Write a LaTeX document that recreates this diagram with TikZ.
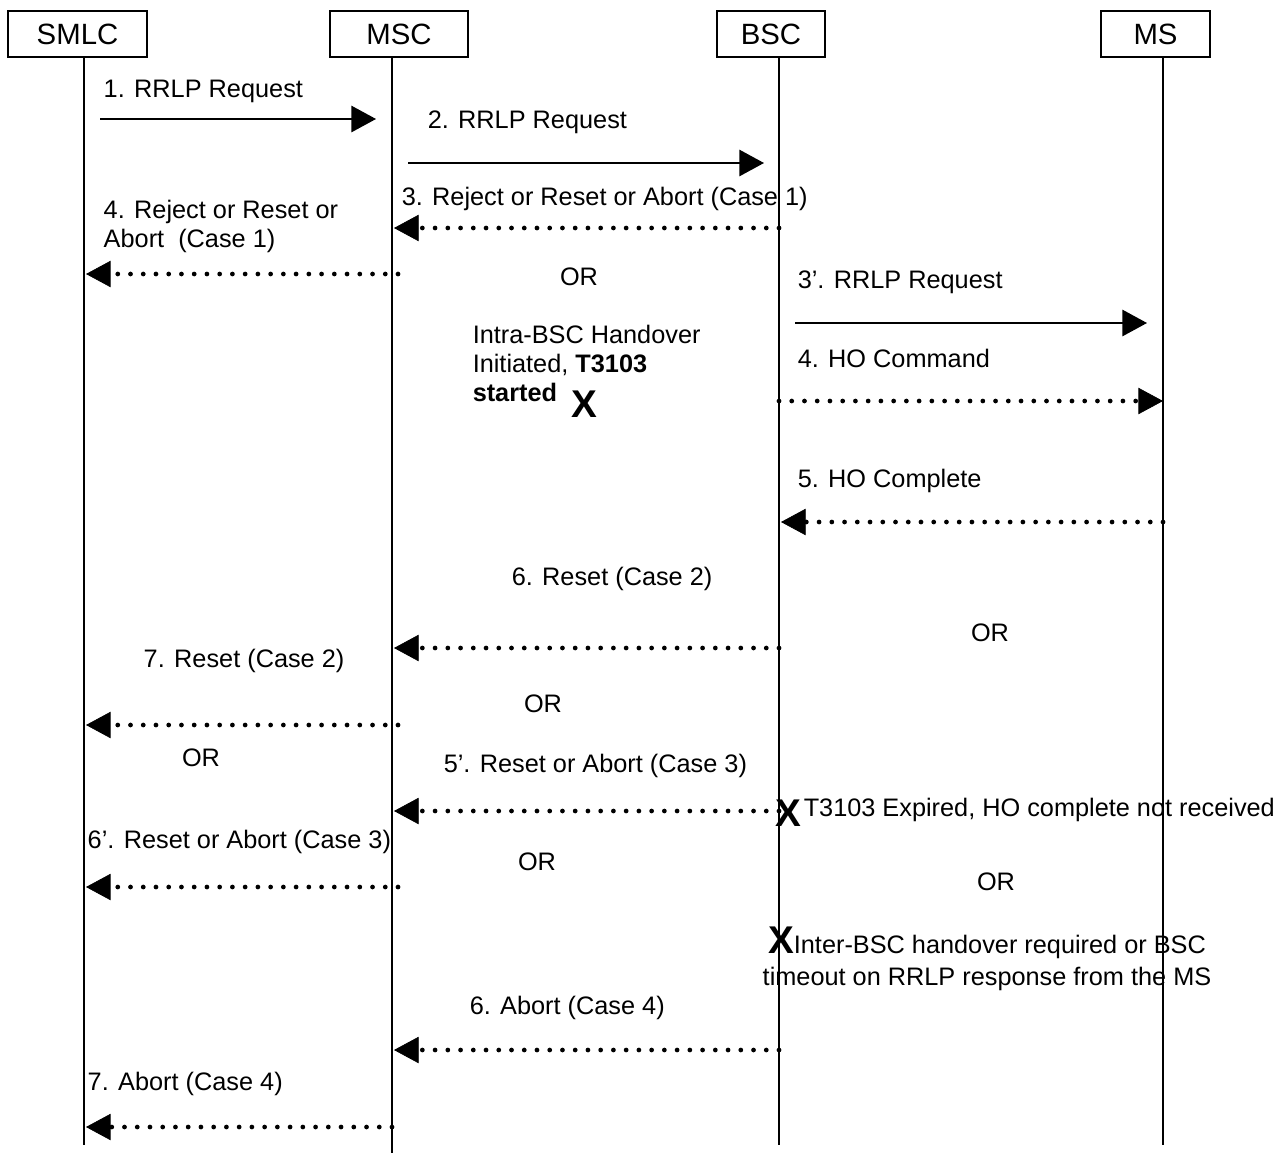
\documentclass[tikz,border=0pt]{standalone}
\usepackage{fontspec}
\setmainfont{Liberation Sans}
\usetikzlibrary{arrows.meta, positioning, calc}
\newcommand{\bigx}{\textbf{\fontsize{22}{18}\selectfont X}}
\tikzset{
  every picture/.style={x=0.02cm, y=-0.02cm, line width=0.85pt},
  head/.style={draw, inner sep=0pt, minimum height=46*0.02cm, font=\fontsize{16.7}{19}\selectfont},
  life/.style={line width=0.85pt},
  req/.style={-{Triangle[length=14pt, width=15pt]}, line width=0.85pt},
  rsp/.style={-{Triangle[length=14pt, width=15pt, line width=0.4pt]}, line width=2.7pt, line cap=round, dash pattern=on 0pt off 7.25pt},
  lbl/.style={anchor=west, inner sep=0pt, align=left, font=\fontsize{14.4}{16.5}\selectfont},
  ortext/.style={inner sep=0pt, font=\fontsize{14.4}{17}\selectfont},
  cross/.style={inner sep=0pt, font=\bfseries\fontsize{22}{22}\selectfont},
}
\begin{document}
\begin{tikzpicture}
  \useasboundingbox (0,0) rectangle (1281,1153);
  % entities
  \node[head, minimum width=139*0.02cm] (smlc) at (77.5,34) {SMLC};
  \node[head, minimum width=138*0.02cm] (msc) at (399,34) {MSC};
  \node[head, minimum width=108*0.02cm] (bsc) at (771,34) {BSC};
  \node[head, minimum width=109*0.02cm] (ms) at (1155.5,34) {MS};
  \coordinate (smlcL) at (84,57);
  \coordinate (mscL) at (392,57);
  \coordinate (bscL) at (779,57);
  \coordinate (msL) at (1163,57);
  \draw[life] (smlcL) -- (smlcL |- 0,1145);
  \draw[life] (mscL) -- (mscL |- 0,1153);
  \draw[life] (bscL) -- (bscL |- 0,1145);
  \draw[life] (msL) -- (msL |- 0,1145);

  % messages
  \node[lbl] (t1) at (103,91) {1. RRLP Request};
  \draw[req] ($(smlcL |- 0,119)+(16,0)$) -- ($(mscL |- 0,119)+(-16,0)$);
  \node[lbl] (t2) at (427,122) {2. RRLP Request};
  \draw[req] ($(mscL |- 0,163)+(16,0)$) -- ($(bscL |- 0,163)+(-15,0)$);
  \node[lbl] (t3) at (401,199) {3. Reject or Reset or Abort (Case 1)};
  \draw[rsp] (bscL |- 0,228) -- ($(mscL |- 0,228)+(2,0)$);
  \node[lbl] (t4) at (103,226) {4. Reject or Reset or\\Abort~~(Case 1)};
  \draw[rsp] ($(mscL |- 0,274)+(6,0)$) -- ($(smlcL |- 0,274)+(2,0)$);
  \node[ortext] (or1) at (579,277) {OR};
  \node[lbl] (t3b) at (797,282) {3’. RRLP Request};
  \draw[req] ($(bscL |- 0,323)+(16,0)$) -- ($(msL |- 0,323)+(-16,0)$);
  \node[lbl] (intra) at (472,363) {Intra-BSC Handover\\Initiated, \textbf{T3103}\\\textbf{started}};
  \node[cross] (x1) at (584,404) {X};
  \node[lbl] (t4b) at (797,358) {4. HO Command};
  \draw[rsp] (bscL |- 0,401) -- (msL |- 0,401);
  \node[lbl] (t5) at (797,481) {5. HO Complete};
  \draw[rsp] (msL |- 0,522) -- ($(bscL |- 0,522)+(2,0)$);
  \node[lbl] (t6) at (511,579) {6. Reset (Case 2)};
  \draw[rsp] (bscL |- 0,648) -- ($(mscL |- 0,648)+(2,0)$);
  \node[ortext] (or2) at (990,633) {OR};
  \node[lbl] (t7) at (143,661) {7. Reset (Case 2)};
  \draw[rsp] ($(mscL |- 0,725)+(6,0)$) -- ($(smlcL |- 0,725)+(2,0)$);
  \node[ortext] (or3) at (543,704) {OR};
  \node[ortext] (or4) at (201,758) {OR};
  \node[lbl] (t5b) at (443,766) {5’. Reset or Abort (Case 3)};
  \draw[rsp] (bscL |- 0,811) -- ($(mscL |- 0,811)+(2,0)$);
  \node[cross] (x2) at (788,813) {X};
  \node[lbl] (exp) at (803,810) {T3103 Expired, HO complete not received};
  \node[lbl] (t6b) at (87,842) {6’. Reset or Abort (Case 3)};
  \draw[rsp] ($(mscL |- 0,887)+(6,0)$) -- ($(smlcL |- 0,887)+(2,0)$);
  \node[ortext] (or5) at (537,862) {OR};
  \node[ortext] (or6) at (996,882) {OR};
  \node[ortext, align=center, font=\fontsize{14.4}{18.3}\selectfont] (inter) at (987,959) {\bigx Inter-BSC handover required or BSC\\timeout on RRLP response from the MS};
  \node[lbl] (t6c) at (469,1008) {6. Abort (Case 4)};
  \draw[rsp] (bscL |- 0,1050) -- ($(mscL |- 0,1050)+(2,0)$);
  \node[lbl] (t7c) at (87,1084) {7. Abort (Case 4)};
  \draw[rsp] (mscL |- 0,1127) -- ($(smlcL |- 0,1127)+(2,0)$);
\end{tikzpicture}
\end{document}
